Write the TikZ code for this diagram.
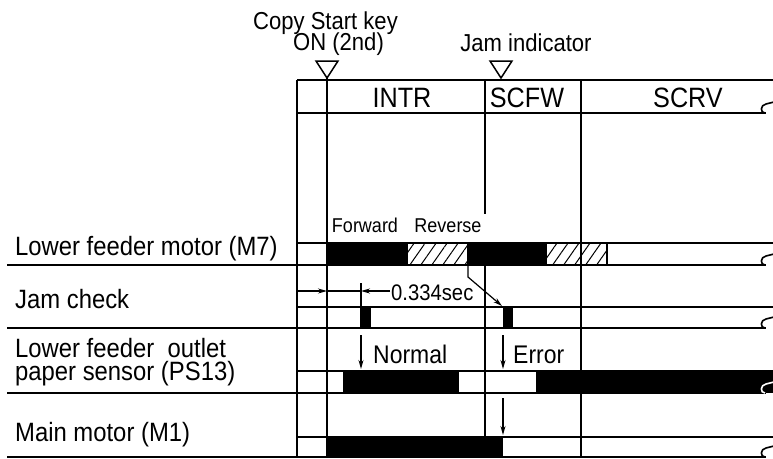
\documentclass[tikz,border=0pt]{standalone}
\usepackage{fontspec}
\setmainfont{Liberation Sans}[FakeStretch=0.9]
\usetikzlibrary{patterns.meta,arrows.meta}
\begin{document}
\begin{tikzpicture}[x=1pt,y=-1pt,
  gridline/.style={line width=1.8pt},
  thinline/.style={line width=1.2pt},
  arr/.style={line width=1.2pt,-{Stealth[length=9pt,width=5pt]}},
  hatch/.style={line width=1.4pt,pattern={Lines[angle=55,distance=9pt,line width=1pt]}},
  lbl/.style={font=\fontsize{26.5}{30}\selectfont,anchor=base west,inner sep=0pt},
  top/.style={font=\fontsize{24.5}{28}\selectfont,anchor=base,inner sep=0pt},
  hdr/.style={font=\fontsize{28}{32}\selectfont,anchor=base,inner sep=0pt},
  small/.style={font=\fontsize{20}{24}\selectfont,anchor=base,inner sep=0pt},
  mid/.style={font=\fontsize{25.5}{29}\selectfont,anchor=base west,inner sep=0pt},
  curl/.pic={\draw[line width=1.6pt,pic actions] (-1,0) .. controls (-6,0) and (-6,-8) .. (0,-9) -- (8,-11);},
  tri/.style={line width=1.5pt}
]
\useasboundingbox (0,0) rectangle (773,458);

% ---- bars ----
\fill (327,243) rectangle (407,265);
\draw[hatch] (407,243) rectangle (468,265);
\fill (468,243) rectangle (546,265);
\draw[hatch] (546,243) rectangle (607,265);

\fill (360,307) rectangle (371,328);
\fill (503,307) rectangle (513,328);

\fill (343,371) rectangle (459,393);
\fill (536,371) rectangle (773,393);

\fill (327,437) rectangle (503,457);

% ---- horizontal band lines ----
\draw[gridline] (297,80) -- (773,80);
\draw[gridline] (297,113) -- (766,113);
\draw[gridline] (297,243) -- (773,243);
\draw[gridline] (7,265) -- (766,265);
\draw[gridline] (297,307) -- (773,307);
\draw[gridline] (7,328) -- (766,328);
\draw[gridline] (297,371) -- (773,371);
\draw[gridline] (7,393) -- (766,393);
\draw[gridline] (297,437) -- (773,437);
\draw[gridline] (7,457) -- (766,457);

\pic at (766,113) {curl};
\pic at (766,265) {curl};
\pic at (766,328) {curl};
\pic[white] at (766,393) {curl};
\pic at (766,457) {curl};

% ---- vertical lines ----
\draw[gridline] (297,80) -- (297,458);
\draw[gridline] (327,78) -- (327,458);
\draw[gridline] (485,80) -- (485,214);
\draw[gridline] (485,243) -- (485,458);
\draw[gridline] (581,80) -- (581,458);

% ---- triangles ----
\draw[tri] (316,61) -- (338,61) -- (327,78) -- cycle;
\draw[tri] (490,61) -- (512,61) -- (501,78) -- cycle;

% ---- top texts ----
\node[font=\fontsize{24.5}{22}\selectfont,anchor=base west,inner sep=0pt] (copy) at (253,50)
  {\begin{tabular}[b]{@{}l@{}}Copy Start key\\[-4pt]\hspace*{40pt}ON (2nd)\end{tabular}};
\node[top] (jam) at (526,51) {Jam indicator};

\node[hdr] (intr) at (402,107) {INTR};
\node[hdr] (scfw) at (527,107) {SCFW};
\node[hdr] (scrv) at (688,107) {SCRV};

% ---- row labels ----
\node[lbl] (m7) at (15,255) {Lower feeder motor (M7)};
\node[lbl] (jc) at (15,308) {Jam check};
\node[font=\fontsize{26.5}{23}\selectfont,anchor=base west,inner sep=0pt] (ps) at (15,380)
  {\begin{tabular}[b]{@{}l@{}}Lower feeder\ \ outlet\\[-4pt]paper sensor (PS13)\end{tabular}};
\node[lbl] (m1) at (15,441) {Main motor (M1)};

\node[small] (fwd) at (365,232) {Forward};
\node[small] (rev) at (448,232) {Reverse};

% ---- dimension ----
\coordinate (d0) at (297,291);
\coordinate (d1) at (327,291);
\coordinate (d2) at (361,291);
\coordinate (d3) at (390,291);
\draw[arr] (d0) -- (d1);
\draw[thinline] (d1) -- (d2);
\draw[arr] (d3) -- (d2);
\draw[thinline] (361,283) -- (361,307);
\node[font=\fontsize{22.5}{26}\selectfont,anchor=base west,inner sep=0pt] (sec) at (391,300) {0.334sec};

% ---- diagonal arrow ----
\coordinate (g0) at (468,265);
\coordinate (g1) at (468,277);
\coordinate (g2) at (502,306);
\draw[arr] (g0) -- (g1) -- (g2);

% ---- normal / error ----
\coordinate (n0) at (361,335);
\coordinate (n1) at (361,369);
\coordinate (e0) at (503,335);
\coordinate (e1) at (503,369);
\coordinate (k0) at (503,398);
\coordinate (k1) at (503,435);
\draw[arr] (n0) -- (n1);
\draw[arr] (e0) -- (e1);
\draw[arr] (k0) -- (k1);
\node[mid] (normal) at (373,363) {Normal};
\node[mid] (error) at (513,363) {Error};
\end{tikzpicture}
\end{document}
